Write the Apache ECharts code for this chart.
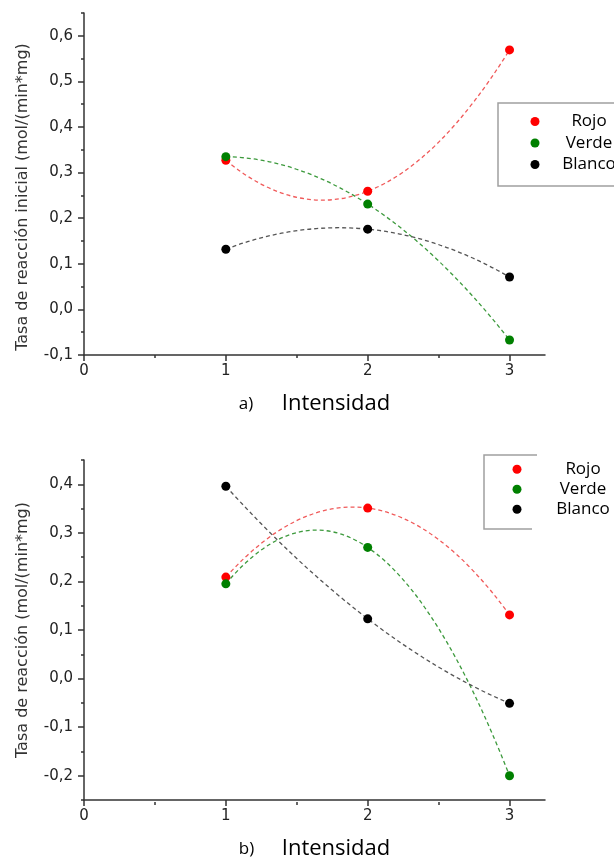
<!DOCTYPE html>
<html>
<head>
<meta charset="utf-8">
<script src="https://cdn.jsdelivr.net/npm/echarts@6/dist/echarts.min.js"></script>
<style>html,body{margin:0;padding:0;background:#fff}#c{width:614px;height:861px}</style>
</head>
<body>
<div id="c"></div>
<script>
// ---- data ----
const intensidad = [1, 2, 3];
const rojoA = [0.327, 0.259, 0.569];
const verdeA = [0.335, 0.231, -0.067];
const blancoA = [0.132, 0.176, 0.071];
const rojoB = [0.209, 0.351, 0.131];
const verdeB = [0.195, 0.270, -0.200];
const blancoB = [0.396, 0.123, -0.051];
const xTicks = [0, 1, 2, 3];
const xMinorTicks = [0.5, 1.5, 2.5];
const yTicksA = [-0.1, 0, 0.1, 0.2, 0.3, 0.4, 0.5, 0.6];
const yMinorA = [-0.05, 0.05, 0.15, 0.25, 0.35, 0.45, 0.55, 0.65];
const yTicksB = [-0.2, -0.1, 0, 0.1, 0.2, 0.3, 0.4];
const yMinorB = [-0.25, -0.15, -0.05, 0.05, 0.15, 0.25, 0.35, 0.45];
const names = ['Rojo', 'Verde', 'Blanco'];
const yNameA = 'Tasa de reacción inicial (mol/(min*mg)';
const yNameB = 'Tasa de reacción (mol/(min*mg)';
const xName = 'Intensidad';

const pointColors = ['#ff0000', '#008000', '#000000'];
const curveColors = ['#f05a5a', '#3d9a3d', '#555555'];
const axisColor = '#333';
const tickFont = 'DejaVu Sans';
const legFont = 'Open Sans';

function pairs(ys) { return intensidad.map((x, i) => [x, ys[i]]); }
function fmt(v) { return v.toFixed(1).replace('.', ','); }

function mainX(gi, tag) {
  return {
    type: 'value', gridIndex: gi, min: 0, max: 3.25, position: 'bottom',
    axisLine: { show: true, onZero: false, lineStyle: { color: axisColor, width: 1.5 } },
    axisTick: { show: true, customValues: xTicks, length: 6, lineStyle: { color: axisColor, width: 1.5 } },
    axisLabel: { customValues: xTicks, margin: 9, color: '#222', fontFamily: tickFont, fontSize: 15, formatter: v => String(v) },
    splitLine: { show: false },
    name: '{a|' + tag + '}{b|' + xName + '}',
    nameLocation: 'middle', nameGap: 36,
    nameTextStyle: {
      rich: {
        a: { fontFamily: legFont, fontSize: 17, color: '#000', width: 43, align: 'left', lineHeight: 26 },
        b: { fontFamily: legFont, fontSize: 22, color: '#000', lineHeight: 26 }
      }
    }
  };
}
function minorX(gi) {
  return {
    type: 'value', gridIndex: gi, min: 0, max: 3.25, position: 'top', offset: -342,
    axisLine: { show: false, onZero: false },
    axisTick: { show: true, inside: true, customValues: xMinorTicks, length: 3, lineStyle: { color: axisColor, width: 1.5 } },
    axisLabel: { show: false }, splitLine: { show: false }
  };
}
function mainY(gi, ticks, mn, mx, nm, pad) {
  return {
    type: 'value', gridIndex: gi, min: mn, max: mx, position: 'left',
    axisLine: { show: true, onZero: false, lineStyle: { color: axisColor, width: 1.5 } },
    axisTick: { show: true, customValues: ticks, length: 6, lineStyle: { color: axisColor, width: 1.5 } },
    axisLabel: { customValues: ticks, margin: 11, color: '#222', fontFamily: tickFont, fontSize: 15, formatter: fmt },
    splitLine: { show: false },
    name: nm, nameLocation: 'middle', nameGap: 53,
    nameTextStyle: { fontFamily: tickFont, fontSize: 16, color: '#333', padding: pad }
  };
}
function minorY(gi, ticks, mn, mx) {
  return {
    type: 'value', gridIndex: gi, min: mn, max: mx, position: 'right', offset: -461,
    axisLine: { show: false, onZero: false },
    axisTick: { show: true, inside: true, customValues: ticks, length: 3, lineStyle: { color: axisColor, width: 1.5 } },
    axisLabel: { show: false }, splitLine: { show: false }
  };
}

function curveRender(color) {
  return function (params, api) {
    if (params.dataIndexInside !== 0) return null;
    const x0 = api.value(0, 0), y0 = api.value(1, 0);
    const x1 = api.value(0, 1), y1 = api.value(1, 1);
    const x2 = api.value(0, 2), y2 = api.value(1, 2);
    // quadratic through three equally spaced points == quadratic bezier with this control point
    const cx = (x0 + x2) / 2;
    const cy = 2 * y1 - (y0 + y2) / 2;
    const p0 = api.coord([x0, y0]);
    const p2 = api.coord([x2, y2]);
    const c = api.coord([cx, cy]);
    return {
      type: 'bezierCurve',
      shape: { x1: p0[0], y1: p0[1], x2: p2[0], y2: p2[1], cpx1: c[0], cpy1: c[1] },
      style: { stroke: color, lineWidth: 1.3, lineDash: [4, 3], fill: 'none' }
    };
  };
}

function seriesFor(xi, yi, sets) {
  const out = [];
  sets.forEach((ys, k) => {
    out.push({
      type: 'custom', name: names[k] + ' ajuste', xAxisIndex: xi, yAxisIndex: yi,
      renderItem: curveRender(curveColors[k]), data: pairs(ys), encode: { x: 0, y: 1 }, silent: true, z: 1
    });
  });
  sets.forEach((ys, k) => {
    out.push({
      type: 'scatter', name: names[k], xAxisIndex: xi, yAxisIndex: yi,
      data: pairs(ys), symbol: 'circle', symbolSize: 9,
      itemStyle: { color: pointColors[k], opacity: 1 }, z: 3 + k
    });
  });
  return out;
}

function legendFor(left, top, gap, w) {
  return {
    data: names, orient: 'vertical', left: left, top: top, itemGap: gap,
    icon: 'circle', itemWidth: 9, itemHeight: 9, padding: 0, borderWidth: 0,
    selectedMode: false,
    itemStyle: { opacity: 1 },
    formatter: n => '{t|' + n + '}',
    textStyle: { rich: { t: { fontFamily: legFont, fontSize: 17, color: '#000', width: w, align: 'center', lineHeight: 20 } } }
  };
}

const chart = echarts.init(document.getElementById('c'), null, { renderer: 'canvas' });
chart.setOption({
  animation: false,
  backgroundColor: '#fff',
  grid: [
    { left: 84, top: 13, width: 461, height: 342 },
    { left: 84, top: 460, width: 461, height: 342 }
  ],
  xAxis: [mainX(0, 'a)'), minorX(0), mainX(1, 'b)'), minorX(1)],
  yAxis: [
    mainY(0, yTicksA, -0.1, 0.65, yNameA, [0, 26, 0, 0]), minorY(0, yMinorA, -0.1, 0.65),
    mainY(1, yTicksB, -0.25, 0.45, yNameB, [0, 0, 0, 0]), minorY(1, yMinorB, -0.25, 0.45)
  ],
  legend: [legendFor(530.5, 113, 4.5, 89), legendFor(512.5, 460.7, 3, 113)],
  graphic: [
    { type: 'polyline', shape: { points: [[620, 103], [498, 103], [498, 186], [620, 186]] }, style: { stroke: '#a0a0a0', lineWidth: 1.5, fill: 'none' }, silent: true },
    { type: 'polyline', shape: { points: [[537, 455], [484, 455], [484, 529], [532, 529]] }, style: { stroke: '#a0a0a0', lineWidth: 1.5, fill: 'none' }, silent: true }
  ],
  series: seriesFor(0, 0, [rojoA, verdeA, blancoA]).concat(seriesFor(2, 2, [rojoB, verdeB, blancoB]))
});
</script>
</body>
</html>
